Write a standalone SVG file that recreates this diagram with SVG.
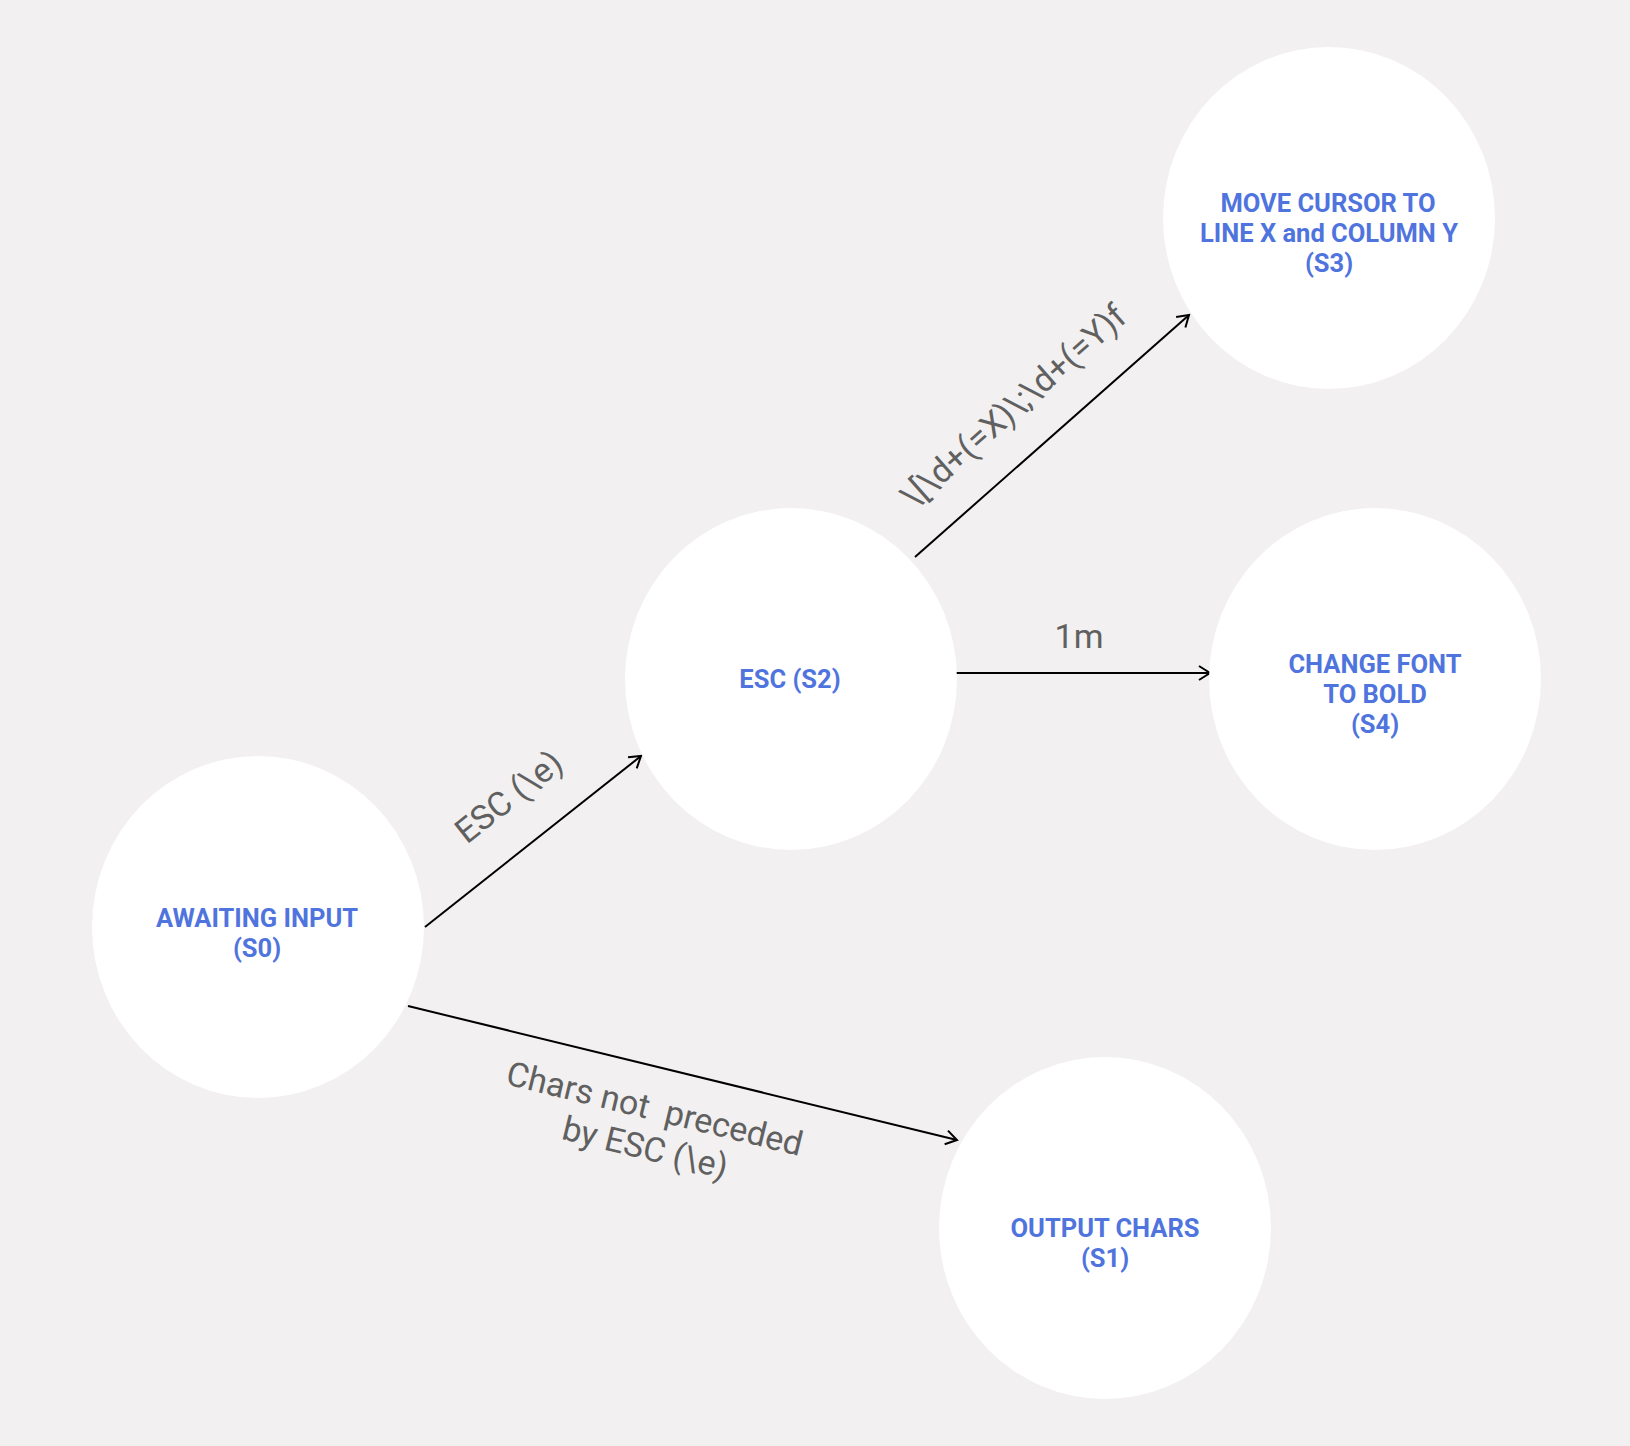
<svg xmlns="http://www.w3.org/2000/svg" width="1630" height="1446" viewBox="0 0 1630 1446">
<defs>
<style>
.node{fill:#ffffff;}
.nt{font-family:Roboto,"Liberation Sans",sans-serif;font-weight:bold;font-size:25.5px;fill:#5074de;text-anchor:middle;}
.lbl{font-family:Roboto,"Liberation Sans",sans-serif;font-size:34px;fill:#606060;text-anchor:middle;white-space:pre;}
.edge{stroke:#000;stroke-width:2;fill:none;marker-end:url(#arr);}
</style>
<marker id="arr" markerWidth="18" markerHeight="18" refX="14" refY="8" orient="auto" markerUnits="userSpaceOnUse">
<path d="M3,1 L14,8 L3,15" fill="none" stroke="#000" stroke-width="2"/>
</marker>
</defs>
<rect x="0" y="0" width="1630" height="1446" fill="#f2f0f1"/>
<g id="connectors">
<line class="edge" x1="425" y1="927" x2="641" y2="756"/>
<line class="edge" x1="915" y1="557" x2="1189" y2="315"/>
<line class="edge" x1="956" y1="673" x2="1210" y2="673"/>
<line class="edge" x1="408" y1="1006" x2="957" y2="1140"/>
<text class="lbl" transform="translate(516,806) rotate(-38.2)" x="0" y="0">ESC (\e)</text>
<text class="lbl" transform="translate(1021,415) rotate(-41.5)" x="0" y="0">\[\d+(=X)\;\d+(=Y)f</text>
<text class="lbl" x="1079" y="648">1m</text>
<g transform="translate(652,1120) rotate(13.7)">
<text class="lbl" x="0" y="0" xml:space="preserve">Chars not  preceded</text>
<text class="lbl" x="0" y="40">by ESC (\e)</text>
</g>
</g>
<g id="S0">
<ellipse class="node" cx="258" cy="927" rx="166" ry="171"/>
<text class="nt" x="257" y="927">AWAITING INPUT</text>
<text class="nt" x="257" y="957">(S0)</text>
</g>
<g id="S1">
<ellipse class="node" cx="1105" cy="1228" rx="166" ry="171"/>
<text class="nt" x="1105" y="1237">OUTPUT CHARS</text>
<text class="nt" x="1105" y="1267">(S1)</text>
</g>
<g id="S2">
<ellipse class="node" cx="791" cy="679" rx="166" ry="171"/>
<text class="nt" x="790" y="688">ESC (S2)</text>
</g>
<g id="S3">
<ellipse class="node" cx="1329" cy="218" rx="166" ry="171"/>
<text class="nt" x="1328" y="212">MOVE CURSOR TO</text>
<text class="nt" x="1329" y="242">LINE X and COLUMN Y</text>
<text class="nt" x="1329" y="272">(S3)</text>
</g>
<g id="S4">
<ellipse class="node" cx="1375" cy="679" rx="166" ry="171"/>
<text class="nt" x="1375" y="673">CHANGE FONT</text>
<text class="nt" x="1375" y="703">TO BOLD</text>
<text class="nt" x="1375" y="733">(S4)</text>
</g>
</svg>
